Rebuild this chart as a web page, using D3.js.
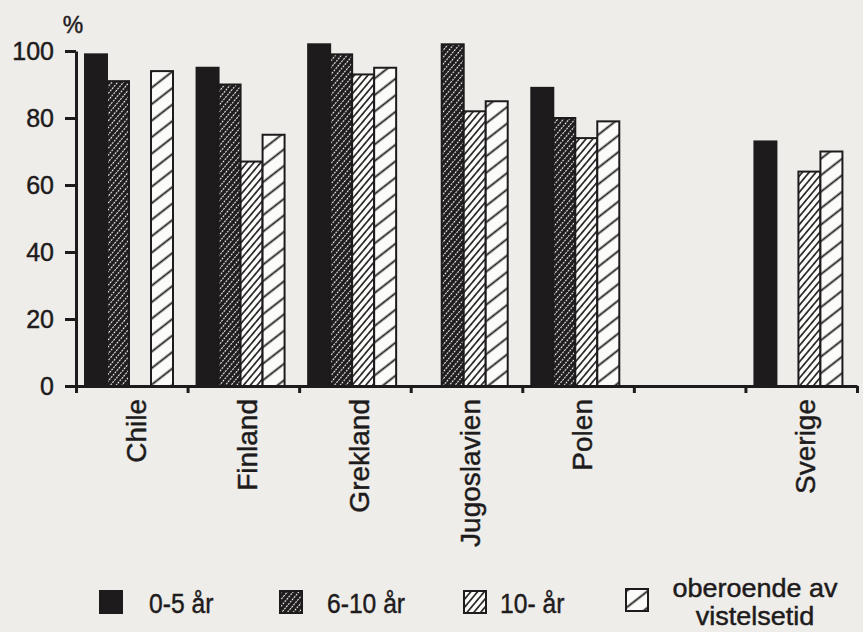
<!DOCTYPE html>
<html>
<head>
<meta charset="utf-8">
<script src="https://cdn.jsdelivr.net/npm/d3@7"></script>
<style>
  html, body { margin: 0; padding: 0; background: #eeede9; }
  text {
    font-family: "Liberation Sans", Arial, Helvetica, sans-serif;
    fill: #1e1b1c;
    stroke: #1e1b1c;
    stroke-width: 0.45px;
  }
</style>
</head>
<body>
<div id="chart"></div>
<script>
// countries, with an empty slot between Polen and Sverige as in the original
const categories = ['Chile', 'Finland', 'Grekland', 'Jugoslavien', 'Polen', '', 'Sverige'];
const series = ['0-5 år', '6-10 år', '10- år', 'oberoende av vistelsetid'];

// percent, null = no bar
const v0to5    = [99, 95, 102, null, 89, null, 73];
const v6to10   = [91, 90, 99, 102, 80, null, null];
const v10plus  = [null, 67, 93, 82, 74, null, 64];
const vAll     = [94, 75, 95, 85, 79, null, 70];

const yTicks = [0, 20, 40, 60, 80, 100];

const ink = '#1e1b1c';
const width = 863, height = 632;

const svg = d3.select('#chart').append('svg')
    .attr('width', width)
    .attr('height', height);

svg.append('rect')
    .attr('width', width)
    .attr('height', height)
    .attr('fill', '#eeede9');

// fill patterns
const defs = svg.append('defs');

// 6-10: black with white dotted diagonals
const p2 = defs.append('pattern')
    .attr('id', 'p2')
    .attr('patternUnits', 'userSpaceOnUse')
    .attr('width', 4.4).attr('height', 12)
    .attr('patternTransform', 'rotate(40)');
p2.append('rect').attr('width', 4.4).attr('height', 12).attr('fill', ink);
p2.append('line')
    .attr('x1', 2.2).attr('y1', 0).attr('x2', 2.2).attr('y2', 12)
    .attr('stroke', '#f4f4f0').attr('stroke-width', 1.1)
    .attr('stroke-dasharray', '2,1');

// 10-: white with dense black diagonals
const p3 = defs.append('pattern')
    .attr('id', 'p3')
    .attr('patternUnits', 'userSpaceOnUse')
    .attr('width', 5.2).attr('height', 10)
    .attr('patternTransform', 'rotate(40)');
p3.append('rect').attr('width', 5.2).attr('height', 10).attr('fill', '#fbfbf9');
p3.append('line')
    .attr('x1', 2.6).attr('y1', 0).attr('x2', 2.6).attr('y2', 10)
    .attr('stroke', ink).attr('stroke-width', 1.6);

// oberoende: white with sparse diagonals
const p4 = defs.append('pattern')
    .attr('id', 'p4')
    .attr('patternUnits', 'userSpaceOnUse')
    .attr('width', 13).attr('height', 10)
    .attr('patternTransform', 'rotate(52)');
p4.append('rect').attr('width', 13).attr('height', 10).attr('fill', '#fbfbf9');
p4.append('line')
    .attr('x1', 6.5).attr('y1', 0).attr('x2', 6.5).attr('y2', 10)
    .attr('stroke', ink).attr('stroke-width', 1.8);

const fills = [ink, 'url(#p2)', 'url(#p3)', 'url(#p4)'];
const values = [v0to5, v6to10, v10plus, vAll];

const x0 = 76, x1 = 857, y0 = 386, y100 = 51;

const x = d3.scaleBand()
    .domain(categories)
    .range([x0, x1]);

const xInner = d3.scaleBand()
    .domain(series)
    .range([9, 97]);

const y = d3.scaleLinear()
    .domain([0, 100])
    .range([y0, y100]);

// bars
const bars = [];
categories.forEach((c, i) => {
  series.forEach((s, j) => {
    if (values[j][i] != null) bars.push({ cat: c, ser: s, idx: j, value: values[j][i] });
  });
});

svg.append('g')
  .selectAll('rect')
  .data(bars)
  .join('rect')
    .attr('x', d => x(d.cat) + xInner(d.ser))
    .attr('y', d => y(d.value))
    .attr('width', xInner.bandwidth())
    .attr('height', d => y(0) - y(d.value))
    .attr('fill', d => fills[d.idx])
    .attr('stroke', ink)
    .attr('stroke-width', 2);

// y axis
const yAxis = svg.append('g')
    .attr('transform', `translate(${x0},0)`)
    .call(d3.axisLeft(y).tickValues(yTicks).tickSize(11).tickSizeOuter(0).tickPadding(11));
yAxis.select('.domain').attr('stroke', ink).attr('stroke-width', 3);
yAxis.selectAll('.tick line').attr('stroke', ink).attr('stroke-width', 3);
yAxis.selectAll('.tick text')
    .attr('font-size', 25)
    .attr('font-family', '"Liberation Sans", Arial, sans-serif')
    .attr('fill', ink);

// x axis with ticks at the band edges
const edges = d3.scaleLinear().domain([0, categories.length]).range([x0, x1]);
const xAxis = svg.append('g')
    .attr('transform', `translate(0,${y0})`)
    .call(d3.axisBottom(edges).tickValues(d3.range(0, categories.length + 1)).tickSize(7).tickSizeOuter(0).tickFormat(''));
xAxis.select('.domain').attr('stroke', ink).attr('stroke-width', 3);
xAxis.selectAll('.tick line').attr('stroke', ink).attr('stroke-width', 3);

svg.append('text')
    .attr('x', 73)
    .attr('y', 33)
    .attr('text-anchor', 'middle')
    .attr('font-size', 23)
    .text('%');

// category labels, rotated
svg.append('g')
  .selectAll('text')
  .data(categories.filter(c => c !== ''))
  .join('text')
    .attr('transform', d => `translate(${x(d) + x.bandwidth() / 2 + 4},399) rotate(-90)`)
    .attr('text-anchor', 'end')
    .attr('dy', '0.35em')
    .attr('font-size', 28)
    .text(d => d);

// legend
const legendX = [100, 280, 464, 626];
const legend = svg.append('g');
series.forEach((s, j) => {
  legend.append('rect')
      .attr('x', legendX[j])
      .attr('y', j === 3 ? 589 : 591)
      .attr('width', 22)
      .attr('height', 22)
      .attr('fill', fills[j])
      .attr('stroke', ink)
      .attr('stroke-width', 2);
});

const legendText = [
  { lines: ['0-5 år'], x: 149, y: [613], size: 28, sx: 0.88 },
  { lines: ['6-10 år'], x: 327, y: [613], size: 28, sx: 0.88 },
  { lines: ['10- år'], x: 500, y: [613], size: 28, sx: 0.88 },
  { lines: ['oberoende av', 'vistelsetid'], x: 755, y: [597, 625], size: 25, sx: 1.08, anchor: 'middle' }
];
legendText.forEach(t => {
  t.lines.forEach((line, k) => {
    legend.append('text')
        .attr('transform', `translate(${t.x},${t.y[k]}) scale(${t.sx},1)`)
        .attr('text-anchor', t.anchor || 'start')
        .attr('font-size', t.size)
        .text(line);
  });
});
</script>
</body>
</html>
